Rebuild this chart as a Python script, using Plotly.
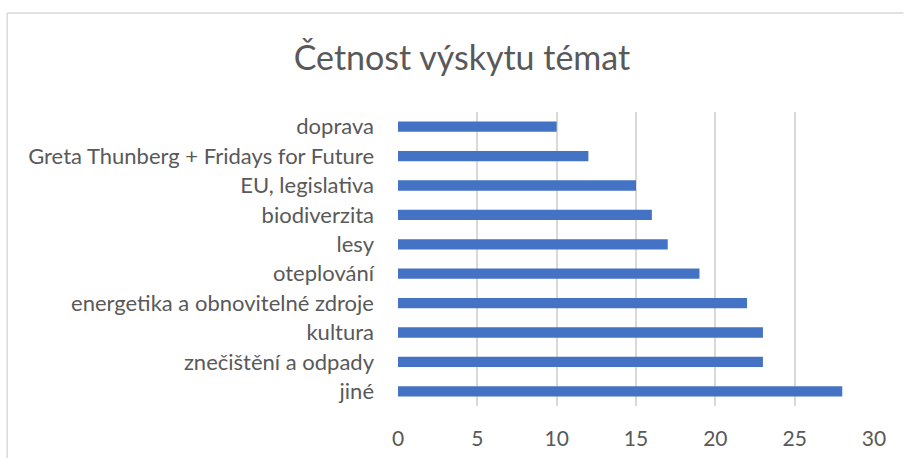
import plotly.graph_objects as go

# data, top to bottom
temata = [
    "doprava",
    "Greta Thunberg + Fridays for Future",
    "EU, legislativa",
    "biodiverzita",
    "lesy",
    "oteplování",
    "energetika a obnovitelné zdroje",
    "kultura",
    "znečištění a odpady",
    "jiné",
]
cetnost = [10, 12, 15, 16, 17, 19, 22, 23, 23, 28]
x_ticks = [0, 5, 10, 15, 20, 25, 30]

GRAY = "#595959"
FONT = "Lato, 'Open Sans', sans-serif"

fig = go.Figure()
fig.add_trace(go.Bar(
    y=temata, x=cetnost, orientation="h",
    marker=dict(color="#4472C4", line=dict(width=0)),
    width=0.35,
    showlegend=False,
))

# outer chart frame (Excel style), left and top edges only
fig.add_shape(type="line", xref="paper", yref="paper",
              x0=-0.821, x1=-0.821, y0=1.337, y1=-0.177,
              line=dict(color="#d9d9d9", width=1.5))
fig.add_shape(type="line", xref="paper", yref="paper",
              x0=-0.821, x1=1.062, y0=1.337, y1=1.337,
              line=dict(color="#d9d9d9", width=1.5))

fig.update_xaxes(
    range=[0, 30], tickvals=x_ticks,
    showgrid=True, gridcolor="#d9d9d9", gridwidth=1.5,
    zeroline=False, showline=False,
    tickfont=dict(size=21, color=GRAY, family=FONT),
    ticklabelstandoff=18, automargin=False,
)
fig.update_yaxes(
    categoryorder="array", categoryarray=temata[::-1],
    showgrid=False, zeroline=False, showline=False,
    tickfont=dict(size=22, color=GRAY, family=FONT),
    ticklabelstandoff=23, automargin=False,
)

fig.update_layout(
    width=904, height=458,
    margin=dict(l=398, r=30, t=112, b=52),
    paper_bgcolor="white", plot_bgcolor="white",
    title=dict(text="Četnost výskytu témat", x=0.511, xanchor="center",
               y=0.873, yanchor="middle",
               font=dict(size=34, color=GRAY, family=FONT)),
    bargap=0.64,
)

# drop the browser's default 8px body margin so the figure sits at 0,0
fig.write_html("out.html", config={"displayModeBar": False},
               post_script="document.body.style.margin='0';")
